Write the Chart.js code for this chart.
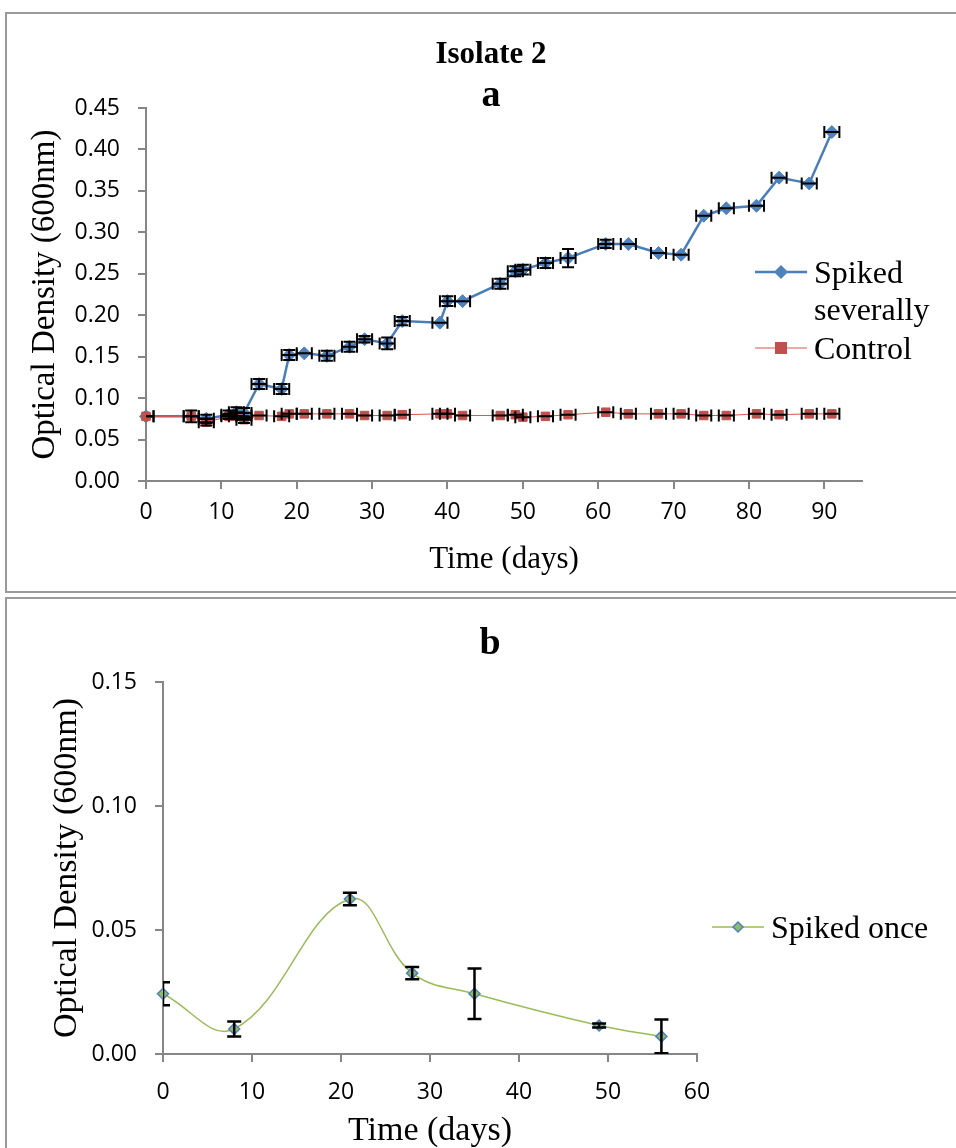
<!DOCTYPE html>
<html>
<head>
<meta charset="utf-8">
<script src="https://cdn.jsdelivr.net/npm/chart.js@4.4.1/dist/chart.umd.min.js"></script>
<style>
  body { margin: 0; background: #fff; overflow: hidden; width: 956px; height: 1148px; position: relative; }
  .frame { position: absolute; border: 2px solid #9a9a9a; box-sizing: border-box; }
  canvas { position: absolute; left: 0; }
</style>
</head>
<body>
<div class="frame" style="left:5px; top:12px; width:1000px; height:581px;"></div>
<div class="frame" style="left:5px; top:597px; width:1000px; height:600px;"></div>
<canvas id="chartA" width="956" height="592" style="top:0;"></canvas>
<canvas id="chartB" width="956" height="551" style="top:597px;"></canvas>
<script>
// ---- panel a data ----
const daysA = [0, 6, 8, 11, 12, 13, 15, 18, 19, 21, 24, 27, 29, 32, 34, 39, 40, 42, 47, 49, 50, 53, 56, 61, 64, 68, 71, 74, 77, 81, 84, 88, 91];
const spikedSeverally = [0.078, 0.078, 0.075, 0.080, 0.083, 0.082, 0.117, 0.111, 0.152, 0.154, 0.151, 0.162, 0.171, 0.166, 0.193, 0.191, 0.217, 0.217, 0.238, 0.253, 0.255, 0.263, 0.269, 0.286, 0.286, 0.275, 0.273, 0.320, 0.329, 0.332, 0.366, 0.359, 0.421];
const spikedSeverallyErr = [0, 0.007, 0.005, 0.005, 0.006, 0.006, 0.006, 0.006, 0.006, 0, 0.006, 0.006, 0.004, 0.007, 0.005, 0, 0.006, 0, 0.006, 0.006, 0.006, 0.006, 0.011, 0.005, 0, 0, 0, 0, 0, 0, 0, 0, 0];
const control = [0.078, 0.078, 0.071, 0.078, 0.078, 0.074, 0.079, 0.078, 0.081, 0.081, 0.081, 0.081, 0.079, 0.079, 0.080, 0.081, 0.081, 0.079, 0.079, 0.080, 0.077, 0.078, 0.080, 0.083, 0.081, 0.081, 0.081, 0.079, 0.079, 0.081, 0.080, 0.081, 0.081];
const controlErr = [0, 0, 0.004, 0.003, 0, 0.004, 0, 0, 0, 0, 0, 0, 0, 0, 0, 0, 0, 0, 0, 0, 0, 0, 0, 0, 0, 0, 0, 0, 0, 0, 0, 0, 0];
const dayErrA = 1; // horizontal error, days
const xTicksA = [0, 10, 20, 30, 40, 50, 60, 70, 80, 90];

// ---- panel b data ----
const daysB = [0, 8, 21, 28, 35, 49, 56];
const spikedOnce = [0.0243, 0.0101, 0.0625, 0.0326, 0.0243, 0.0115, 0.0071];
const spikedOnceErr = [0.0046, 0.003, 0.0025, 0.0025, 0.0102, 0.0008, 0.0068];

const serif = '"Liberation Serif", "Times New Roman", serif';
const sans = '"Open Sans", sans-serif';
const axisGray = '#868686';

function toPoints(xs, ys) {
  return xs.map((x, i) => ({ x: x, y: ys[i] }));
}

// error bars drawn from the chart's own scales
const errorBars = {
  id: 'errorBars',
  afterDatasetsDraw(chart, args, opts) {
    const { ctx, chartArea } = chart;
    const xs = chart.scales.x, ys = chart.scales.y;
    ctx.save();
    ctx.beginPath();
    ctx.rect(chartArea.left, chartArea.top - 30, chartArea.width + 30, chartArea.height + 30);
    ctx.clip();
    ctx.strokeStyle = '#000';
    ctx.lineWidth = opts.lineWidth || 2;
    const cap = opts.cap || 6;
    chart.data.datasets.forEach(ds => {
      ds.data.forEach((p, i) => {
        const px = xs.getPixelForValue(p.x), py = ys.getPixelForValue(p.y);
        const ex = ds.xErr || 0;
        const ey = ds.yErr ? ds.yErr[i] : 0;
        ctx.beginPath();
        if (ex > 0) {
          const x0 = xs.getPixelForValue(p.x - ex), x1 = xs.getPixelForValue(p.x + ex);
          ctx.moveTo(x0, py); ctx.lineTo(x1, py);
          ctx.moveTo(x0, py - cap); ctx.lineTo(x0, py + cap);
          ctx.moveTo(x1, py - cap); ctx.lineTo(x1, py + cap);
        }
        if (ey > 0) {
          const y0 = ys.getPixelForValue(p.y - ey), y1 = ys.getPixelForValue(p.y + ey);
          ctx.moveTo(px, y0); ctx.lineTo(px, y1);
          ctx.moveTo(px - cap, y0); ctx.lineTo(px + cap, y0);
          ctx.moveTo(px - cap, y1); ctx.lineTo(px + cap, y1);
        }
        ctx.stroke();
      });
    });
    ctx.restore();
  }
};

function marker(ctx, style, x, y, r, fill, stroke, bw) {
  ctx.beginPath();
  if (style === 'rectRot') {
    ctx.moveTo(x, y - r); ctx.lineTo(x + r, y); ctx.lineTo(x, y + r); ctx.lineTo(x - r, y);
  } else {
    ctx.rect(x - r, y - r, 2 * r, 2 * r);
  }
  ctx.closePath();
  ctx.fillStyle = fill; ctx.fill();
  if (bw) { ctx.lineWidth = bw; ctx.strokeStyle = stroke; ctx.stroke(); }
}

// titles and legend, placed like the original figure
const panelText = {
  id: 'panelText',
  afterDraw(chart, args, opts) {
    const ctx = chart.ctx;
    ctx.save();
    ctx.textAlign = 'center';
    ctx.textBaseline = 'middle';
    ctx.fillStyle = '#000';
    (opts.titles || []).forEach(t => {
      ctx.font = 'bold ' + t.size + 'px ' + serif;
      ctx.fillText(t.text, t.x, t.y);
    });
    ctx.textAlign = 'left';
    ctx.textBaseline = 'alphabetic';
    (opts.legend || []).forEach(l => {
      ctx.strokeStyle = l.color;
      ctx.lineWidth = l.lineWidth;
      ctx.beginPath();
      ctx.moveTo(l.x, l.y); ctx.lineTo(l.x + 52, l.y);
      ctx.stroke();
      marker(ctx, l.style, l.x + 26, l.y, l.r, l.fill, l.stroke, l.bw);
      ctx.fillStyle = '#000';
      ctx.font = l.size + 'px ' + serif;
      l.lines.forEach((s, k) => ctx.fillText(s, l.x + 59, l.y + 11 + k * 37));
    });
    ctx.restore();
  }
};

function axisCommon(extra) {
  return Object.assign({
    type: 'linear',
    grid: { drawOnChartArea: false, drawTicks: true, tickLength: 8, color: axisGray, lineWidth: 2 },
    border: { display: true, color: axisGray, width: 2 }
  }, extra);
}

const chartA = new Chart(document.getElementById('chartA').getContext('2d'), {
  type: 'line',
  data: {
    datasets: [{
      label: 'Spiked severally',
      data: toPoints(daysA, spikedSeverally),
      borderColor: '#4A7EBB',
      borderWidth: 2.5,
      pointStyle: 'rectRot',
      pointRadius: 6.5,
      pointBackgroundColor: '#4F81BD',
      pointBorderColor: '#4F81BD',
      pointBorderWidth: 1,
      tension: 0,
      clip: false,
      order: 1,
      xErr: dayErrA,
      yErr: spikedSeverallyErr
    }, {
      label: 'Control',
      data: toPoints(daysA, control),
      borderColor: '#D9534F',
      borderWidth: 1,
      pointStyle: 'rect',
      pointRadius: 6,
      pointBackgroundColor: '#C0504D',
      pointBorderColor: '#C0504D',
      pointBorderWidth: 1,
      tension: 0,
      clip: false,
      order: 0,
      xErr: dayErrA,
      yErr: controlErr
    }]
  },
  options: {
    responsive: false,
    animation: false,
    layout: { padding: { top: 108, right: 94, left: 0, bottom: 0 } },
    plugins: {
      legend: { display: false },
      tooltip: { enabled: false },
      errorBars: { lineWidth: 2, cap: 6 },
      panelText: {
        titles: [
          { text: 'Isolate 2', x: 491, y: 55, size: 31 },
          { text: 'a', x: 491, y: 96, size: 38 }
        ],
        legend: [
          { x: 755, y: 272, color: '#4A7EBB', lineWidth: 2.5, style: 'rectRot', r: 7, fill: '#4F81BD', lines: ['Spiked', 'severally'], size: 32 },
          { x: 755, y: 348, color: '#D9534F', lineWidth: 1, style: 'rect', r: 6, fill: '#C0504D', lines: ['Control'], size: 32 }
        ]
      }
    },
    scales: {
      x: axisCommon({
        min: 0, max: 95,
        afterBuildTicks: s => { s.ticks = xTicksA.map(v => ({ value: v })); },
        afterFit: s => { s.height = 111; },
        ticks: { autoSkip: false, maxRotation: 0, padding: 10, color: '#000', font: { family: sans, size: 23 } },
        title: { display: true, text: 'Time (days)', color: '#000', font: { family: serif, size: 31 }, padding: { top: 0, bottom: 14 } }
      }),
      y: axisCommon({
        min: 0, max: 0.45,
        afterFit: s => { s.width = 146; },
        ticks: { stepSize: 0.05, padding: 18, color: '#000', font: { family: sans, size: 23 }, callback: v => v.toFixed(2) },
        title: { display: true, text: 'Optical Density (600nm)', color: '#000', font: { family: serif, size: 33 }, padding: { top: 26 } }
      })
    }
  },
  plugins: [errorBars, panelText]
});

const chartB = new Chart(document.getElementById('chartB').getContext('2d'), {
  type: 'line',
  data: {
    datasets: [{
      label: 'Spiked once',
      data: toPoints(daysB, spikedOnce),
      borderColor: '#9BBB59',
      borderWidth: 1.5,
      pointStyle: 'rectRot',
      pointRadius: 5.5,
      pointBackgroundColor: '#8FBC6A',
      pointBorderColor: '#4F81BD',
      pointBorderWidth: 1.5,
      tension: 0.4,
      clip: false,
      yErr: spikedOnceErr
    }]
  },
  options: {
    responsive: false,
    animation: false,
    layout: { padding: { top: 85, right: 259, left: 0, bottom: 0 } },
    plugins: {
      legend: { display: false },
      tooltip: { enabled: false },
      errorBars: { lineWidth: 2.5, cap: 7 },
      panelText: {
        titles: [ { text: 'b', x: 490, y: 47, size: 38 } ],
        legend: [
          { x: 712, y: 330, color: '#9BBB59', lineWidth: 1.5, style: 'rectRot', r: 5, fill: '#8FBC6A', stroke: '#4F81BD', bw: 1.5, lines: ['Spiked once'], size: 32 }
        ]
      }
    },
    scales: {
      x: axisCommon({
        min: 0, max: 60,
        afterFit: s => { s.height = 94; },
        ticks: { stepSize: 10, autoSkip: false, maxRotation: 0, padding: 17, color: '#000', font: { family: sans, size: 23 } },
        title: { display: true, text: 'Time (days)', color: '#000', font: { family: serif, size: 34, lineHeight: 1.0 }, padding: { top: 0, bottom: 0 } }
      }),
      y: axisCommon({
        min: 0, max: 0.15,
        afterFit: s => { s.width = 163; },
        ticks: { stepSize: 0.05, padding: 18, color: '#000', font: { family: sans, size: 23 }, callback: v => v.toFixed(2) },
        title: { display: true, text: 'Optical Density (600nm)', color: '#000', font: { family: serif, size: 34 }, padding: { top: 47 } }
      })
    }
  },
  plugins: [errorBars, panelText]
});
</script>
</body>
</html>
